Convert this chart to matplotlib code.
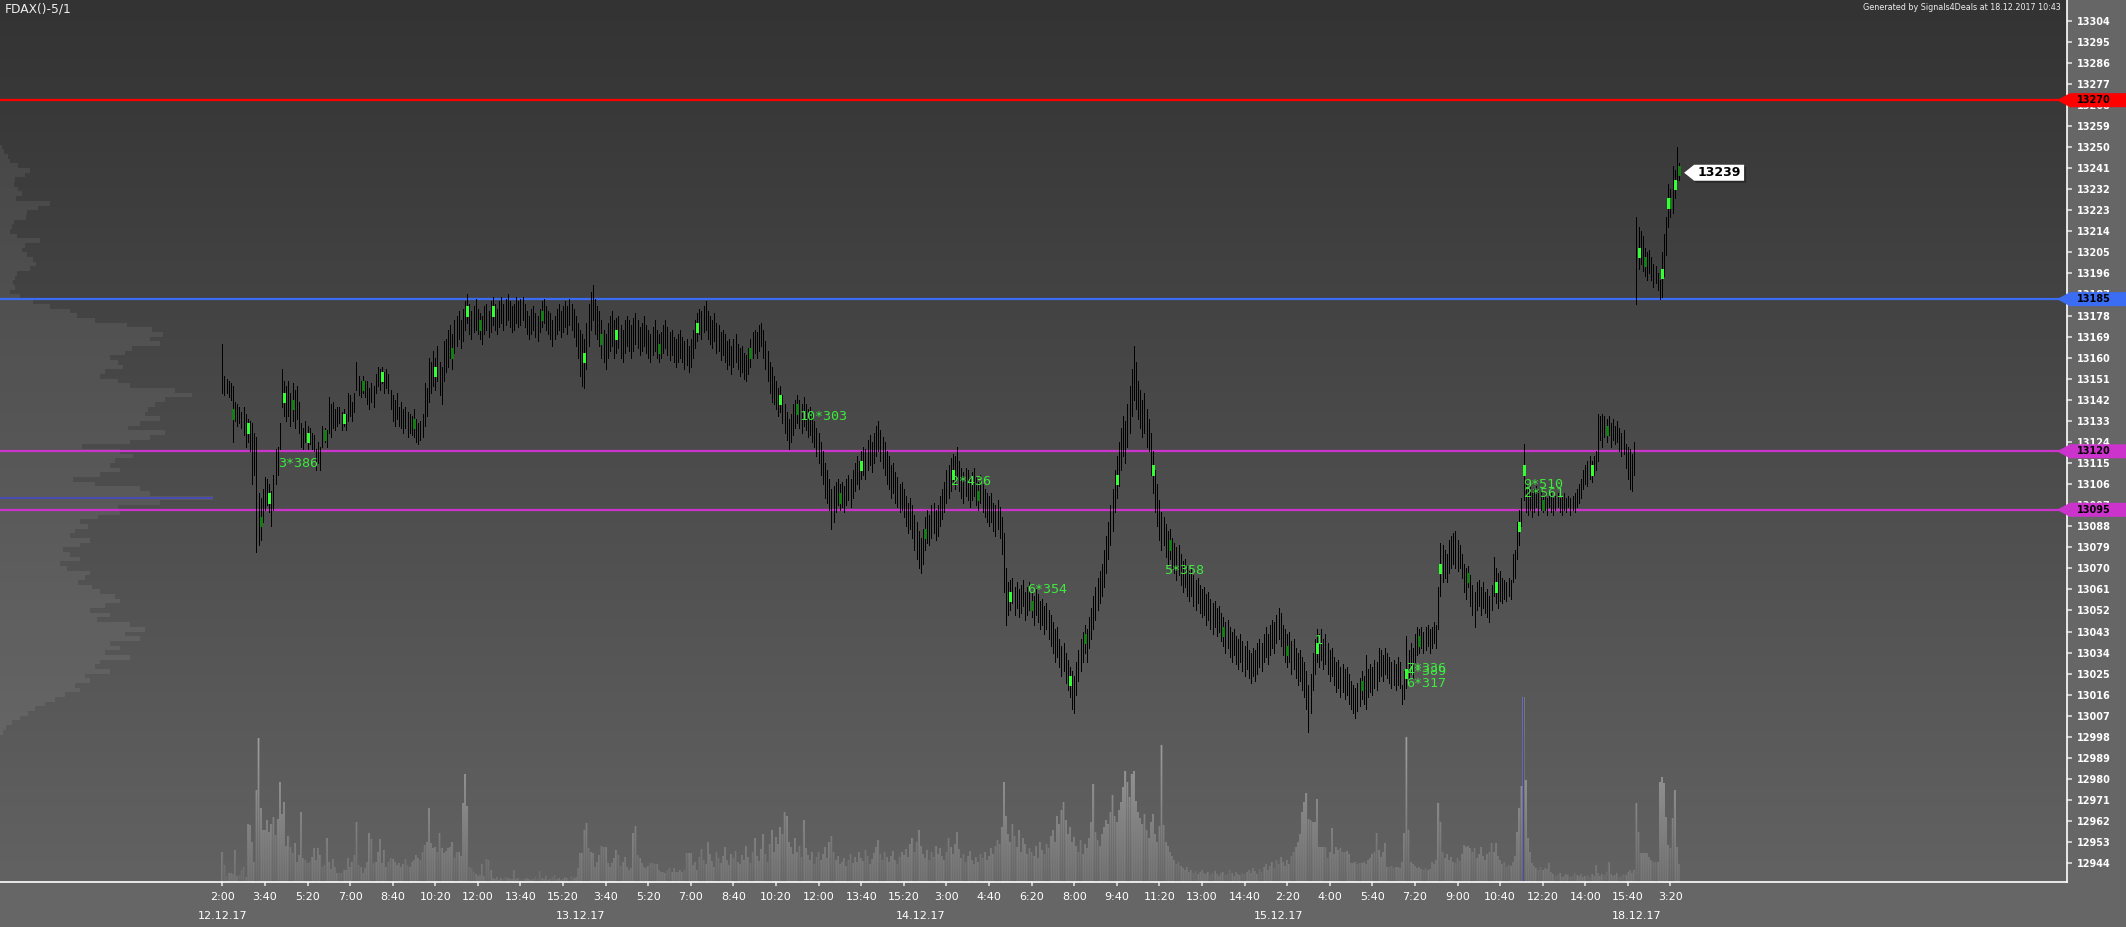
import numpy as np
import matplotlib
matplotlib.use("Agg")
import matplotlib.pyplot as plt
import matplotlib.transforms as mtransforms
from matplotlib.colors import LinearSegmentedColormap
from matplotlib.patches import Polygon
from matplotlib.path import Path

# FDAX 5 minute bars, 12.12.17 - 18.12.17
bar_low = [
    13145, 13144, 13145, 13143, 13142, 13124, 13133, 13131, 13132, 13130,
    13127, 13122, 13124, 13120, 13106, 13110, 13077, 13080, 13082, 13090,
    13095, 13097, 13094, 13088, 13095, 13106, 13110, 13121, 13139, 13135,
    13133, 13135, 13131, 13133, 13130, 13134, 13128, 13122, 13121, 13124,
    13121, 13123, 13121, 13120, 13112, 13115, 13112, 13122, 13124, 13122,
    13128, 13126, 13130, 13129, 13131, 13132, 13129, 13131, 13129, 13133,
    13135, 13133, 13137, 13146, 13144, 13143, 13145, 13143, 13140, 13138,
    13141, 13139, 13145, 13148, 13146, 13149, 13145, 13147, 13145, 13138,
    13133, 13131, 13134, 13131, 13130, 13128, 13130, 13126, 13128, 13127,
    13126, 13124, 13123, 13125, 13126, 13131, 13135, 13141, 13145, 13148,
    13146, 13150, 13144, 13140, 13150, 13154, 13156, 13160, 13155, 13162,
    13165, 13168, 13164, 13167, 13172, 13175, 13170, 13168, 13171, 13172,
    13170, 13168, 13166, 13170, 13172, 13169, 13171, 13174, 13172, 13170,
    13173, 13175, 13172, 13174, 13176, 13173, 13171, 13172, 13175, 13173,
    13174, 13176, 13173, 13170, 13168, 13170, 13172, 13169, 13167, 13171,
    13173, 13175, 13172, 13170, 13168, 13165, 13168, 13170, 13172, 13169,
    13171, 13173, 13170, 13174, 13172, 13169, 13165, 13160, 13152, 13148,
    13147, 13155, 13165, 13172, 13176, 13170, 13168, 13165, 13160, 13158,
    13155, 13160, 13163, 13165, 13160, 13162, 13164, 13160, 13158, 13162,
    13165, 13163, 13160, 13163, 13166, 13164, 13161, 13163, 13165, 13162,
    13160, 13158, 13161, 13163, 13160, 13158, 13160, 13162, 13164, 13161,
    13159, 13161, 13158, 13156, 13158, 13160, 13158, 13155, 13157, 13154,
    13156, 13160, 13164, 13167, 13170, 13168, 13171, 13172, 13168, 13166,
    13164, 13167, 13162, 13163, 13159, 13161, 13158, 13155, 13157, 13153,
    13156, 13158, 13155, 13152, 13154, 13151, 13150, 13153, 13156, 13160,
    13162, 13160, 13163, 13165, 13160, 13155, 13150, 13145, 13141, 13140,
    13138, 13135, 13137, 13132, 13128, 13125, 13121, 13124, 13127, 13130,
    13132, 13130, 13128, 13131, 13129, 13126, 13127, 13124, 13122, 13118,
    13115, 13110, 13106, 13100, 13098, 13095, 13087, 13090, 13094, 13097,
    13095, 13096, 13094, 13097, 13099, 13096, 13100, 13103, 13106, 13104,
    13108, 13110, 13108, 13112, 13114, 13111, 13115, 13118, 13120, 13116,
    13113, 13110, 13106, 13104, 13100, 13102, 13098, 13096, 13094, 13095,
    13092, 13088, 13085, 13087, 13083, 13078, 13074, 13070, 13068, 13072,
    13078, 13081, 13080, 13083, 13085, 13082, 13084, 13088, 13091, 13094,
    13098, 13100, 13103, 13106, 13104, 13108, 13103, 13100, 13098, 13101,
    13099, 13096, 13099, 13101, 13097, 13095, 13098, 13094, 13092, 13090,
    13088, 13090, 13086, 13084, 13087, 13083, 13076, 13060, 13046, 13050,
    13052, 13055, 13050, 13053, 13049, 13051, 13054, 13048, 13050, 13052,
    13049, 13046, 13050, 13047, 13044, 13046, 13042, 13044, 13040, 13037,
    13034, 13030, 13032, 13028, 13024, 13026, 13021, 13018, 13015, 13010,
    13008, 13016, 13022, 13026, 13030, 13034, 13030, 13036, 13040, 13044,
    13048, 13052, 13055, 13058, 13062, 13068, 13074, 13080, 13086, 13094,
    13100, 13105, 13112, 13118, 13115, 13122, 13128, 13135, 13142, 13138,
    13134, 13130, 13126, 13128, 13122, 13120, 13110, 13102, 13094, 13088,
    13082, 13078, 13080, 13075, 13072, 13074, 13070, 13068, 13065, 13067,
    13063, 13060, 13062, 13058, 13056, 13058, 13054, 13052, 13055, 13051,
    13049, 13050, 13046, 13048, 13044, 13042, 13045, 13041, 13043, 13039,
    13037, 13034, 13036, 13032, 13030, 13033, 13029, 13027, 13030, 13026,
    13024, 13027, 13023, 13021, 13024, 13022, 13025, 13028, 13026, 13030,
    13032, 13029, 13033, 13036, 13034, 13038, 13040, 13037, 13033, 13030,
    13028, 13030, 13025, 13027, 13023, 13020, 13022, 13018, 13015, 13010,
    13000, 13008, 13018, 13025, 13030, 13028, 13031, 13027, 13029, 13025,
    13022, 13024, 13020, 13017, 13019, 13015, 13017, 13014, 13016, 13012,
    13010, 13008, 13006, 13009, 13011, 13014, 13012, 13010, 13015, 13017,
    13016, 13019, 13018, 13022, 13024, 13022, 13025, 13023, 13021, 13019,
    13020, 13018, 13020, 13019, 13012, 13014, 13019, 13022, 13025, 13023,
    13030, 13033, 13034, 13036, 13034, 13035, 13037, 13034, 13036, 13038,
    13036, 13044, 13058, 13064, 13066, 13064, 13068, 13070, 13072, 13070,
    13069, 13070, 13066, 13060, 13057, 13062, 13054, 13050, 13045, 13052,
    13054, 13050, 13053, 13051, 13049, 13047, 13052, 13058, 13055, 13053,
    13056, 13055, 13057, 13056, 13058, 13057, 13064, 13066, 13074, 13080,
    13088, 13099, 13094, 13093, 13095, 13092, 13094, 13096, 13093, 13095,
    13094, 13095, 13093, 13096, 13094, 13093, 13095, 13096, 13094, 13093,
    13095, 13094, 13096, 13093, 13095, 13094, 13096, 13098, 13100, 13104,
    13106, 13105, 13108, 13107, 13110, 13112, 13116, 13125, 13122, 13126,
    13124, 13127, 13122, 13125, 13123, 13124, 13120, 13118, 13119, 13113,
    13108, 13104, 13103, 13110,
    13183, 13198, 13200, 13197, 13195, 13193, 13196, 13193, 13190, 13192,
    13189, 13185, 13186, 13195, 13204, 13216, 13220, 13222, 13228, 13236,
    13236,
]
bar_high = [
    13166, 13152, 13151, 13150, 13149, 13148, 13141, 13140, 13139, 13137,
    13139, 13136, 13134, 13133, 13132, 13128, 13126, 13102, 13100, 13104,
    13109, 13108, 13106, 13103, 13110, 13121, 13122, 13132, 13155, 13150,
    13148, 13150, 13145, 13149, 13146, 13148, 13141, 13132, 13130, 13133,
    13131, 13130, 13128, 13127, 13121, 13124, 13122, 13131, 13130, 13129,
    13143, 13140, 13141, 13138, 13139, 13139, 13137, 13138, 13136, 13145,
    13144, 13141, 13145, 13158, 13152, 13150, 13152, 13150, 13150, 13147,
    13149, 13148, 13153, 13156, 13155, 13156, 13154, 13155, 13153, 13146,
    13144, 13142, 13145, 13139, 13141, 13138, 13139, 13137, 13136, 13135,
    13138, 13134, 13132, 13133, 13136, 13149, 13147, 13160, 13158, 13163,
    13160, 13165, 13158, 13156, 13167, 13168, 13172, 13174, 13170, 13176,
    13178, 13180, 13176, 13181, 13184, 13187, 13183, 13180, 13182, 13185,
    13181, 13179, 13178, 13182, 13183, 13180, 13184, 13186, 13183, 13181,
    13184, 13186, 13183, 13185, 13187, 13184, 13182, 13183, 13186, 13184,
    13185, 13186, 13183, 13180, 13178, 13181, 13182, 13179, 13178, 13181,
    13184, 13185, 13182, 13180, 13179, 13176, 13178, 13181, 13183, 13180,
    13182, 13184, 13182, 13185, 13183, 13181, 13178, 13175, 13172, 13170,
    13168, 13175, 13183, 13188, 13191, 13185, 13182, 13180, 13176, 13172,
    13170, 13175, 13178, 13180, 13176, 13177, 13178, 13174, 13172, 13176,
    13178, 13176, 13174, 13177, 13179, 13176, 13173, 13175, 13178, 13174,
    13172, 13170, 13173, 13176, 13172, 13170, 13171, 13174, 13176, 13173,
    13171, 13172, 13169, 13168, 13170, 13172, 13169, 13167, 13168, 13165,
    13168, 13172, 13176, 13179, 13181, 13180, 13182, 13184, 13180, 13178,
    13176, 13179, 13175, 13174, 13171, 13172, 13170, 13167, 13168, 13165,
    13168, 13170, 13166, 13164, 13165, 13162, 13161, 13164, 13168, 13171,
    13172, 13171, 13174, 13175, 13172, 13167, 13163, 13158, 13156, 13152,
    13150, 13147, 13148, 13144, 13140, 13137, 13134, 13136, 13140, 13142,
    13144, 13142, 13140, 13143, 13140, 13138, 13139, 13136, 13133, 13130,
    13128, 13124, 13120, 13115, 13112, 13108, 13104, 13105, 13107, 13108,
    13106, 13107, 13105, 13108, 13110, 13108, 13112, 13115, 13118, 13116,
    13120, 13122, 13121, 13125, 13127, 13124, 13128, 13131, 13133, 13129,
    13126, 13124, 13120, 13118, 13114, 13115, 13111, 13109, 13106, 13107,
    13104, 13101, 13098, 13100, 13097, 13093, 13090, 13086, 13083, 13087,
    13092, 13095, 13093, 13097, 13098, 13095, 13097, 13101, 13104, 13107,
    13112, 13114, 13117, 13119, 13118, 13122, 13116, 13113, 13111, 13113,
    13112, 13109, 13111, 13113, 13109, 13107, 13110, 13106, 13104, 13102,
    13101, 13102, 13098, 13097, 13099, 13096, 13092, 13085, 13070, 13064,
    13065, 13066, 13062, 13064, 13061, 13063, 13065, 13060, 13062, 13064,
    13060, 13058, 13061, 13059, 13056, 13057, 13054, 13055, 13052, 13050,
    13047, 13044, 13045, 13040, 13037, 13038, 13034, 13031, 13028, 13026,
    13024, 13030, 13035, 13040, 13043, 13046, 13044, 13049, 13053, 13058,
    13062, 13066, 13069, 13072, 13078, 13084, 13090, 13097, 13104, 13112,
    13118, 13124, 13130, 13135, 13133, 13140, 13148, 13155, 13165, 13158,
    13150, 13146, 13142, 13145, 13138, 13134, 13128, 13120, 13112, 13106,
    13099, 13094, 13092, 13089, 13086, 13087, 13083, 13081, 13079, 13080,
    13076, 13073, 13074, 13071, 13069, 13070, 13067, 13065, 13066, 13063,
    13061, 13062, 13059, 13060, 13057, 13055, 13056, 13053, 13054, 13051,
    13049, 13047, 13048, 13045, 13043, 13044, 13041, 13040, 13042, 13039,
    13037, 13039, 13035, 13034, 13036, 13035, 13038, 13040, 13038, 13042,
    13045, 13042, 13046, 13048, 13047, 13050, 13053, 13051, 13046, 13044,
    13042, 13043, 13039, 13040, 13036, 13034, 13035, 13032, 13030, 13026,
    13020, 13025, 13034, 13040, 13044, 13042, 13044, 13040, 13042, 13038,
    13035, 13036, 13032, 13030, 13031, 13028, 13029, 13027, 13028, 13025,
    13022, 13020, 13019, 13021, 13023, 13026, 13024, 13033, 13027, 13029,
    13028, 13031, 13030, 13036, 13035, 13033, 13036, 13034, 13032, 13030,
    13031, 13029, 13032, 13030, 13020, 13026, 13041, 13035, 13038, 13036,
    13042, 13045, 13044, 13045, 13043, 13045, 13046, 13044, 13045, 13047,
    13046, 13062, 13081, 13080, 13078, 13076, 13082, 13084, 13085, 13086,
    13082, 13080, 13076, 13072, 13070, 13071, 13067, 13063, 13060, 13064,
    13065, 13062, 13064, 13060, 13061, 13058, 13063, 13075, 13070, 13068,
    13069, 13066, 13065, 13064, 13066, 13065, 13076, 13078, 13090, 13095,
    13100, 13123, 13108, 13104, 13105, 13102, 13104, 13105, 13103, 13104,
    13101, 13102, 13100, 13101, 13102, 13100, 13101, 13102, 13100, 13101,
    13102, 13100, 13101, 13100, 13101, 13102, 13104, 13106, 13108, 13112,
    13114, 13116, 13118, 13116, 13118, 13120, 13136, 13135, 13136, 13135,
    13134, 13135, 13132, 13134, 13131, 13133, 13130, 13128, 13129, 13123,
    13122, 13121, 13119, 13124,
    13220, 13216, 13214, 13212, 13207, 13205, 13206, 13203, 13200, 13199,
    13196, 13193, 13205, 13213, 13220, 13234, 13232, 13242, 13240, 13250,
    13243,
]
bar_volume = [
    30, 17, 6, 9, 9, 8, 32, 6, 7, 12, 15, 5, 58, 57, 40, 20, 92, 144, 74, 52,
    52, 62, 50, 58, 65, 47, 63, 100, 68, 80, 36, 46, 35, 29, 39, 20, 27, 70, 24, 22,
    19, 20, 25, 34, 22, 34, 27, 15, 17, 44, 20, 13, 23, 15, 9, 9, 9, 12, 12, 24,
    15, 20, 27, 60, 17, 15, 9, 14, 20, 49, 43, 19, 20, 30, 43, 19, 32, 15, 20, 24,
    23, 20, 17, 19, 15, 18, 23, 17, 15, 20, 22, 27, 24, 22, 30, 37, 40, 74, 39, 34,
    35, 30, 49, 34, 29, 31, 34, 35, 40, 24, 30, 30, 26, 79, 108, 76, 15, 14, 10, 8,
    6, 7, 18, 6, 23, 22, 12, 4, 3, 5, 2, 4, 3, 5, 4, 3, 3, 12, 3, 4,
    2, 3, 3, 4, 3, 2, 3, 5, 3, 11, 4, 3, 6, 2, 3, 5, 7, 3, 4, 2,
    3, 5, 4, 2, 6, 4, 5, 14, 29, 29, 52, 59, 34, 30, 29, 15, 20, 27, 36, 35,
    35, 19, 15, 19, 24, 32, 27, 16, 20, 25, 15, 12, 14, 49, 56, 27, 24, 19, 15, 14,
    16, 19, 19, 18, 18, 12, 10, 10, 9, 12, 14, 10, 14, 10, 10, 12, 10, 12, 29, 29,
    29, 17, 20, 12, 25, 33, 22, 18, 40, 28, 21, 15, 30, 24, 19, 26, 35, 22, 17, 28,
    24, 31, 20, 18, 27, 22, 36, 25, 19, 30, 44, 26, 21, 33, 48, 28, 20, 38, 52, 30,
    45, 38, 55, 48, 70, 66, 40, 35, 28, 44, 30, 36, 25, 62, 34, 27, 22, 30, 18, 25,
    30, 22, 28, 35, 24, 40, 46, 30, 22, 26, 18, 20, 24, 16, 22, 28, 19, 25, 20, 30,
    24, 21, 32, 26, 18, 23, 29, 35, 42, 28, 22, 30, 25, 20, 26, 31, 22, 18, 25, 30,
    27, 33, 25, 38, 44, 30, 40, 52, 36, 28, 24, 32, 22, 30, 25, 36, 28, 34, 26, 22,
    30, 44, 35, 28, 38, 50, 33, 24, 28, 20, 26, 31, 22, 18, 25, 20, 28, 24, 30, 22,
    26, 34, 28, 36, 42, 38, 55, 100, 66, 48, 40, 58, 46, 35, 52, 30, 44, 38, 28, 34,
    30, 26, 36, 24, 40, 32, 28, 38, 34, 46, 52, 40, 66, 58, 72, 80, 62, 48, 55, 40,
    45, 36, 30, 42, 28, 38, 34, 44, 60, 98, 50, 42, 36, 48, 55, 62, 58, 70, 87, 66,
    60, 72, 80, 95, 111, 100, 85, 108, 111, 81, 70, 64, 58, 68, 52, 44, 60, 68, 48, 40,
    56, 137, 57, 40, 36, 30, 26, 22, 18, 20, 16, 14, 12, 15, 10, 12, 9, 11, 8, 10,
    12, 9, 8, 10, 7, 9, 11, 8, 6, 9, 10, 7, 8, 12, 9, 6, 10, 8, 7, 9,
    8, 10, 12, 9, 14, 11, 8, 13, 10, 15, 18, 12, 16, 20, 14, 22, 18, 25, 20, 16,
    22, 18, 26, 30, 35, 40, 48, 70, 80, 89, 63, 62, 60, 60, 83, 35, 35, 35, 35, 24,
    30, 54, 28, 35, 32, 34, 30, 30, 31, 28, 19, 19, 20, 18, 19, 19, 20, 18, 22, 24,
    28, 30, 49, 32, 25, 30, 39, 15, 15, 16, 14, 15, 15, 14, 20, 49, 145, 52, 20, 18,
    16, 14, 15, 13, 12, 14, 12, 13, 20, 18, 22, 79, 60, 30, 24, 28, 22, 25, 20, 19,
    24, 21, 28, 37, 35, 36, 34, 30, 34, 24, 28, 35, 26, 22, 28, 30, 39, 30, 39, 26,
    22, 18, 20, 15, 17, 16, 20, 26, 50, 74, 96, 185, 102, 44, 30, 19, 16, 14, 12, 15,
    12, 14, 13, 19, 10, 8, 6, 7, 9, 5, 6, 8, 7, 5, 6, 9, 7, 6, 8, 5,
    6, 7, 5, 8, 6, 17, 9, 6, 8, 7, 10, 20, 8, 6, 7, 9, 5, 6, 8, 7,
    10, 12, 9, 12,
    79, 50, 29, 29, 29, 29, 25, 22, 20, 20, 20, 100, 105, 99, 65, 37, 34, 64, 92, 35,
    18,
]

tick_labels = ['2:00', '3:40', '5:20', '7:00', '8:40', '10:20', '12:00', '13:40', '15:20',
               '3:40', '5:20', '7:00', '8:40', '10:20', '12:00', '13:40', '15:20',
               '3:00', '4:40', '6:20', '8:00', '9:40', '11:20', '13:00', '14:40',
               '2:20', '4:00', '5:40', '7:20', '9:00', '10:40', '12:20', '14:00', '15:40',
               '3:20']
day_labels = ['12.12.17', '13.12.17', '14.12.17', '15.12.17', '18.12.17']
day_start = [0, 168, 328, 496, 664]

level_prices = [13270, 13185, 13120, 13095]
level_colors = ['#ff0000', '#3a6cf4', '#cc33cc', '#cc33cc']

# volume at price, 2 point rows from 13250 down to 13000
profile_prices = np.arange(13250, 12999, -2)
profile_volume = [
    2, 4, 8, 10, 18, 30, 25, 15, 14, 18,
    22, 16, 50, 38, 27, 26, 14, 12, 10, 17,
    40, 25, 22, 27, 33, 36, 30, 17, 15, 13,
    15, 10, 20, 33, 50, 70, 77, 95, 127, 152,
    163, 150, 160, 132, 125, 110, 118, 123, 105, 100,
    118, 130, 175, 192, 165, 155, 148, 145, 160, 140,
    128, 165, 150, 130, 82, 120, 133, 115, 110, 120,
    100, 73, 95, 140, 150, 213, 160, 118, 120, 98,
    80, 88, 75, 70, 90, 80, 63, 70, 80, 60,
    67, 90, 85, 78, 92, 100, 115, 120, 105, 90,
    110, 97, 130, 145, 125, 140, 110, 120, 105, 130,
    100, 95, 110, 85, 90, 75, 80, 65, 55, 45,
    35, 28, 20, 12, 6, 3,
]

mark_bars = [12, 22, 29, 40, 57, 75, 100, 115, 127, 170, 185, 223, 262, 300, 343,
             370, 398, 420, 437, 514, 556, 572, 598, 609, 611, 643, 665, 676, 679, 682]
mark_prices = [13130, 13100, 13143, 13126, 13134, 13152, 13154, 13180, 13180, 13160,
               13170, 13173, 13142, 13114, 13110, 13058, 13022, 13108, 13112, 13036,
               13025, 13070, 13062, 13088, 13112, 13112, 13205, 13196, 13226, 13234]
dark_bars = [5, 18, 33, 48, 66, 90, 108, 121, 150, 178, 205, 248, 270, 290, 330,
             355, 380, 405, 445, 470, 500, 535, 562, 585, 620, 650, 668, 680, 684]
dark_prices = [13136, 13090, 13140, 13127, 13148, 13132, 13162, 13174, 13178, 13168,
               13164, 13162, 13138, 13100, 13085, 13101, 13054, 13040, 13080, 13043,
               13035, 13020, 13039, 13066, 13097, 13129, 13201, 13226, 13240]

note_text = ['3*386', '10*303', '2*436', '6*354', '5*358', '1',
             '4*389', '7*336', '6*317', '9*510', '2*561']
note_bar = [26, 271, 342, 378, 442, 513, 556, 556, 556, 611, 611]
note_price = [13115, 13135, 13107, 13061, 13069, 13039, 13026, 13027, 13021, 13106, 13102]

last_close = 13239

xlim = (-104.4, 866.2)
ylim = (12936.0, 13312.8)

fig = plt.figure(figsize=(21.26, 9.27), dpi=100, facecolor='#666666')
plot_rect = [0.0, 45 / 927, 2067 / 2126, 882 / 927]

# background gradient
ax_bg = fig.add_axes(plot_rect, zorder=0)
bg_cmap = LinearSegmentedColormap.from_list('bg', ['#626262', '#333333'])
ax_bg.imshow(np.linspace(0, 1, 256).reshape(-1, 1), cmap=bg_cmap, aspect='auto',
             origin='lower', extent=(0, 1, 0, 1))
ax_bg.set_axis_off()

# volume profile on the left
ax_prof = fig.add_axes(plot_rect, zorder=1)
ax_prof.barh(profile_prices, profile_volume, height=2, color=(1, 1, 1, 0.07), linewidth=0)
poc = int(np.argmax(profile_volume))
ax_prof.barh(profile_prices[poc], profile_volume[poc], height=1, color='#4a4ab4', linewidth=0)
ax_prof.set_xlim(0, 2067)
ax_prof.set_ylim(ylim)
ax_prof.set_axis_off()

# volume bars at the bottom
ax_vol = fig.add_axes(plot_rect, zorder=1)
x_vol = np.arange(len(bar_volume))
vbars = ax_vol.bar(x_vol, bar_volume, width=0.8, color='#888888', linewidth=0)
clip = Path.make_compound_path(*[b.get_path().transformed(b.get_patch_transform()) for b in vbars])
vol_cmap = LinearSegmentedColormap.from_list('vol', ['#6c6c6c', '#b0b0b0'])
grad = ax_vol.imshow(np.linspace(0, 1, 256).reshape(-1, 1), cmap=vol_cmap, aspect='auto',
                     origin='lower', extent=(xlim[0], xlim[1], 0, 190), zorder=2)
grad.set_clip_path(clip, ax_vol.transData)
vmax = int(np.argmax(bar_volume))
ax_vol.bar(vmax, bar_volume[vmax], width=0.8, color='#4848b0', linewidth=0, zorder=3)
ax_vol.set_xlim(xlim)
ax_vol.set_ylim(0, 882)
ax_vol.set_axis_off()

# price chart
ax = fig.add_axes(plot_rect, zorder=2)
ax.set_facecolor('none')
ax.set_xlim(xlim)
ax.set_ylim(ylim)

for p, c in zip(level_prices, level_colors):
    ax.axhline(p, color=c, linewidth=1.6, zorder=2)

x = np.arange(len(bar_low))
ax.vlines(x, bar_low, bar_high, colors='#000000', linewidth=0.72, antialiased=False, zorder=3)
ax.vlines(dark_bars, np.array(dark_prices) - 2, np.array(dark_prices) + 2,
          colors='#167c16', linewidth=0.9, antialiased=False, zorder=4)
ax.vlines(mark_bars, np.array(mark_prices) - 2, np.array(mark_prices) + 2,
          colors='#33ff33', linewidth=0.9, antialiased=False, zorder=4)

for t, b, p in zip(note_text, note_bar, note_price):
    ax.text(b, p, t, color='#3dea3d', fontsize=9.6, family='DejaVu Sans Mono',
            ha='left', va='center', zorder=6)

# axes styling
for s in ['top', 'left']:
    ax.spines[s].set_visible(False)
for s in ['right', 'bottom']:
    ax.spines[s].set_color('white')
    ax.spines[s].set_linewidth(1.2)

ax.yaxis.tick_right()
ax.set_yticks(np.arange(12944, 13305, 9))
ax.tick_params(axis='y', colors='#dddddd', labelcolor='white', length=3.6, width=1.2,
               pad=3.4, labelsize=7)
for lbl in ax.get_yticklabels():
    lbl.set_fontweight('bold')

ax.set_xticks(np.arange(0, 20 * len(tick_labels), 20))
ax.set_xticklabels(tick_labels)
ax.tick_params(axis='x', colors='#dddddd', labelcolor='white', length=3, width=1.2,
               pad=4, labelsize=8)

for d, lbl in zip(day_start, day_labels):
    ax.annotate(lbl, xy=(d, 0), xycoords=('data', 'axes fraction'), xytext=(0, -24.5),
                textcoords='offset points', ha='center', va='center', fontsize=8,
                color='white', annotation_clip=False)

# price tags on the right axis
blend = mtransforms.blended_transform_factory(ax.transAxes, ax.transData)
tag_shape = [(-0.10, 0), (0.03, 0.07), (0.59, 0.07), (0.59, -0.07), (0.03, -0.07)]
for p, c in zip(level_prices, level_colors):
    trans = fig.dpi_scale_trans + mtransforms.ScaledTranslation(1.0, p, blend)
    ax.add_patch(Polygon(tag_shape, closed=True, facecolor=c, edgecolor='none',
                         transform=trans, clip_on=False, zorder=10))
    ax.annotate(str(p), xy=(1, p), xycoords=blend, xytext=(19.2, 0),
                textcoords='offset points', ha='center', va='center', fontsize=7,
                fontweight='bold', color='black', annotation_clip=False, zorder=11)

# last price tag
last_x = len(bar_low) - 1 + 2.4
last_shape = [(0, 0), (0.10, 0.08), (0.60, 0.08), (0.60, -0.08), (0.10, -0.08)]
shadow_shape = [(px + 0.02, py - 0.02) for px, py in last_shape]
trans = fig.dpi_scale_trans + mtransforms.ScaledTranslation(last_x, last_close, ax.transData)
ax.add_patch(Polygon(shadow_shape, closed=True, facecolor='#1e1e1e', alpha=0.6,
                     edgecolor='none', transform=trans, clip_on=False, zorder=9))
ax.add_patch(Polygon(last_shape, closed=True, facecolor='white', edgecolor='none',
                     transform=trans, clip_on=False, zorder=10))
ax.annotate(str(last_close), xy=(last_x, last_close), xytext=(25.2, 0),
            textcoords='offset points', ha='center', va='center', fontsize=9,
            fontweight='bold', color='black', annotation_clip=False, zorder=11)

fig.text(5 / 2126, 1 - 9 / 927, 'FDAX()-5/1', color='#eeeeee', fontsize=8.8,
         ha='left', va='center')
fig.text(2061 / 2126, 1 - 7 / 927, 'Generated by Signals4Deals at 18.12.2017 10:43',
         color='#eeeeee', fontsize=5.8, ha='right', va='center')

fig.savefig('out.png', dpi=100, facecolor=fig.get_facecolor())
